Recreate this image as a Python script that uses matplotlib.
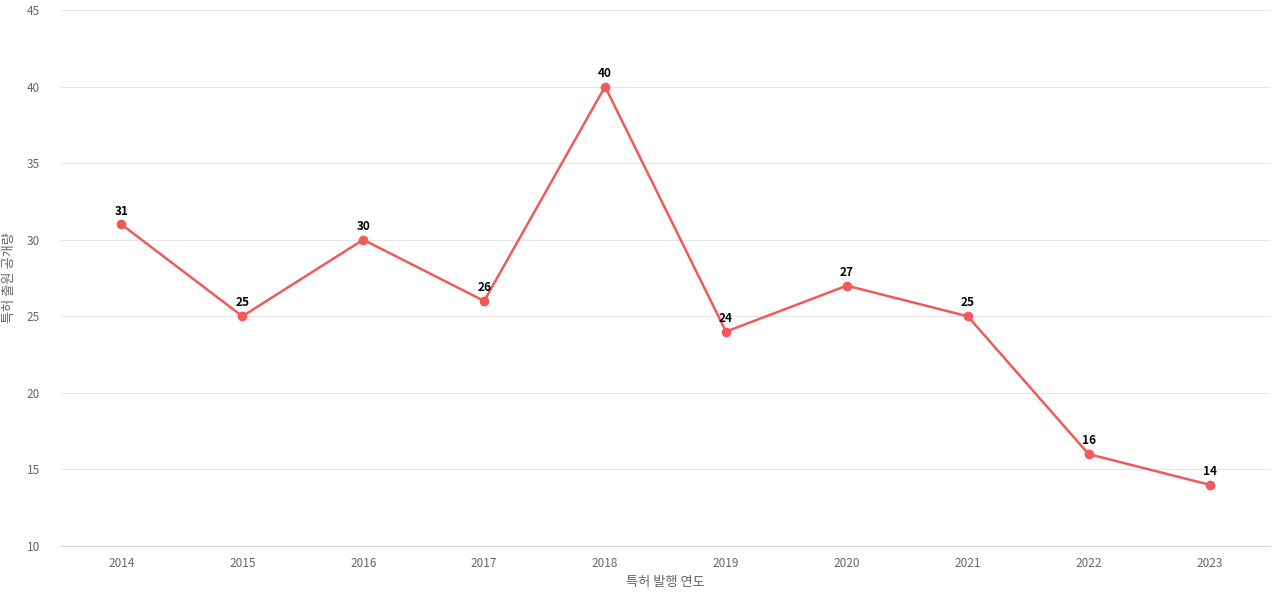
import matplotlib
matplotlib.use("Agg")
import matplotlib.pyplot as plt

years = ["2014","2015","2016","2017","2018","2019","2020","2021","2022","2023"]
values = [31,25,30,26,40,24,27,25,16,14]

plt.rcParams['font.family'] = ['Noto Sans CJK KR', 'DejaVu Sans']
fig = plt.figure(figsize=(12.8,6), dpi=100)
ax = fig.add_axes([61/1280, 1-546/600, 1209/1280, 536/600])
x = list(range(len(years)))
color = '#f05a5a'
ax.plot(x, values, color=color, lw=1.8, marker='o', ms=6)
for xi, v in zip(x, values):
    ax.text(xi, v+0.45, str(v), ha='center', va='bottom', fontsize=8.5, fontweight='bold', color='black')
ax.set_xlim(-0.5, 9.5)
ax.set_ylim(10, 45)
ax.set_yticks(range(10, 46, 5))
ax.set_xticks(x)
ax.set_xticklabels(years)
ax.grid(axis='y', color='#e6e6e6', lw=0.8)
ax.set_axisbelow(True)
for s in ['top','right','left']:
    ax.spines[s].set_visible(False)
ax.spines['bottom'].set_color('#ccd6eb')
ax.tick_params(length=0, labelsize=8.5, colors='#666666', pad=8)
ax.tick_params(axis='y', pad=15)
ax.set_xlabel('특허 발행 연도', fontsize=9.5, color='#666666', labelpad=4)
ax.set_ylabel('특허 출원 공개량', fontsize=9.5, color='#666666', labelpad=8)
fig.savefig('out.png', dpi=100)
